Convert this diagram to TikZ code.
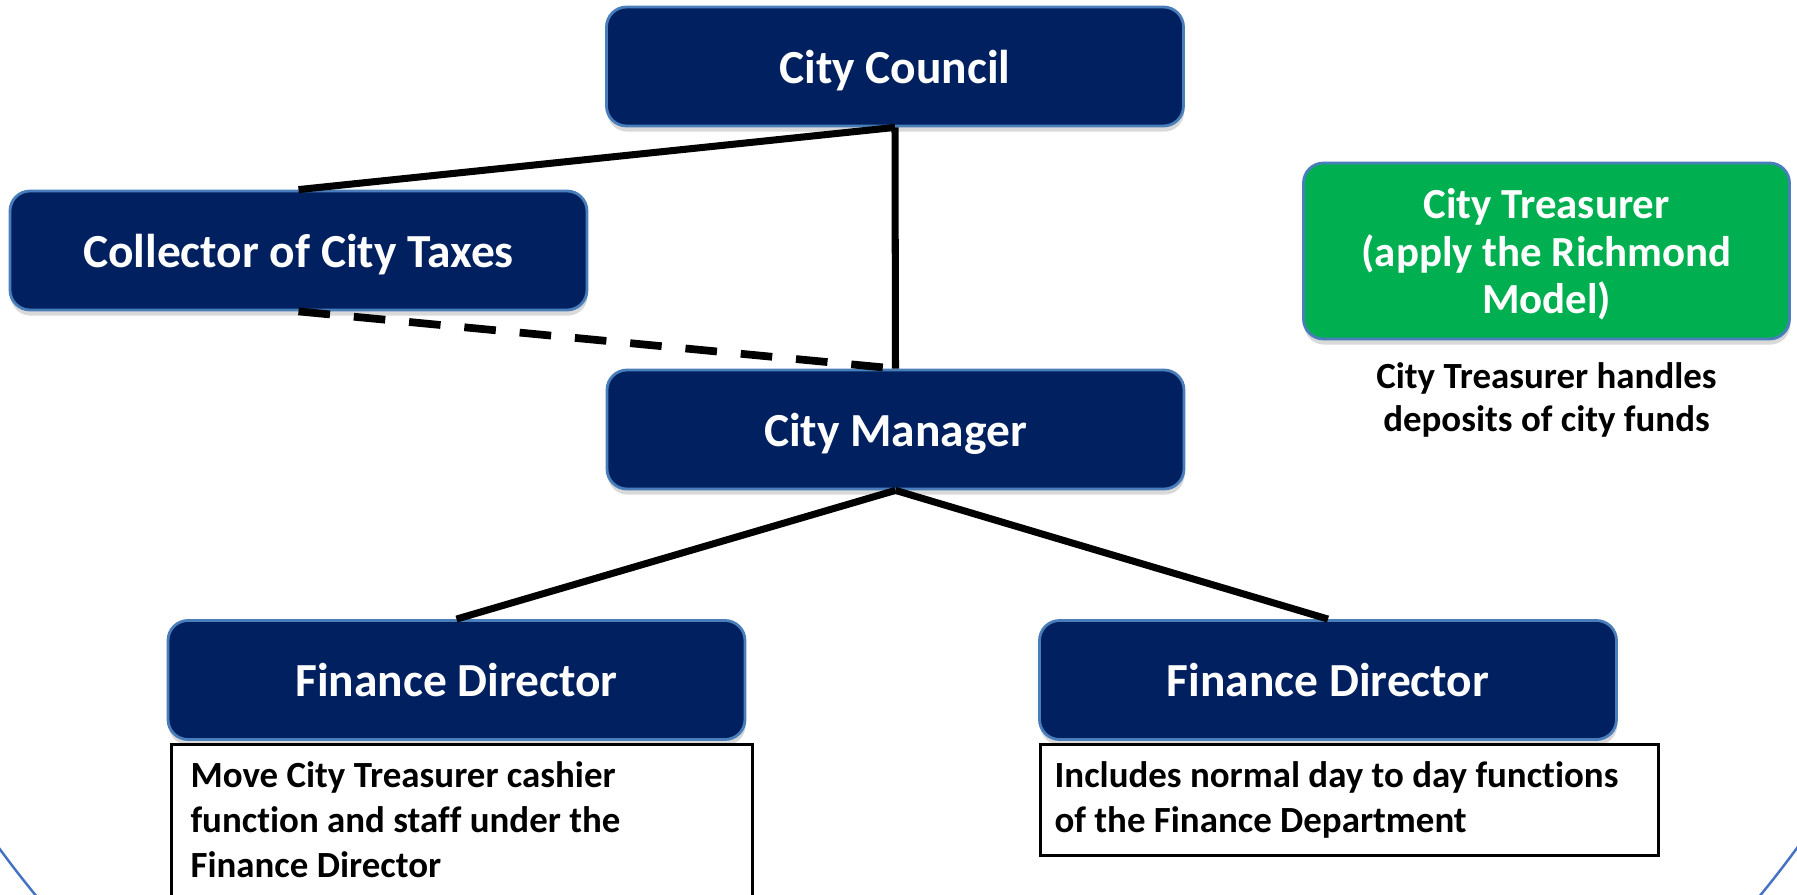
\documentclass[tikz,border=0pt]{standalone}
\usepackage{fontspec}
\setmainfont{Carlito}[Ligatures=NoCommon]
\usepackage{xcolor}
\usetikzlibrary{shapes,shadows}

\begin{document}
\begin{tikzpicture}[auto, thick]

  % Define Colors
  \definecolor{darknavy}{HTML}{002060}
  \definecolor{rimblue}{HTML}{4A7EBB}
  \definecolor{treasgreen}{HTML}{00B050}
  \definecolor{arcblue}{HTML}{4472C4}

  % Node styles
  \tikzstyle{cnavy}=[rectangle, rounded corners=0.2cm, draw=rimblue, line width=0.8pt, fill=darknavy, text=white, minimum width=5.77cm, minimum height=1.19cm, text depth=0pt, font=\bfseries\fontsize{13.5}{16}\selectfont, drop shadow={shadow xshift=0.2pt, shadow yshift=-1.6pt, opacity=0.3}]
  \tikzstyle{cgreen}=[cnavy, fill=treasgreen, minimum width=4.86cm, minimum height=1.76cm, align=center, font=\bfseries\fontsize{12.2}{13.5}\selectfont]
  \tikzstyle{nbox}=[rectangle, draw=black, line width=0.9pt, anchor=north west, align=flush left, inner ysep=0.17cm, font=\bfseries\fontsize{10.5}{12.8}\selectfont]

  \tikzstyle{S_link}=[line width=2pt, black]
  \tikzstyle{D_link}=[line width=2.2pt, black, dash pattern=on 9pt off 6.8pt]

  \useasboundingbox (0,0) rectangle (17.97,-8.95);

  % Background arc
  \draw[arcblue, line width=0.7pt] (8.98,-1.90) circle (11.14cm);

  % Nodes
  \node[cnavy] (council) at (8.95,-0.665) {City Council};
  \node[cnavy] (collector) at (2.985,-2.505) {Collector of City Taxes};
  \node[cnavy] (manager) at (8.955,-4.295) {City Manager};
  \node[cnavy] (fd_1) at (4.565,-6.80) {Finance Director};
  \node[cnavy] (fd_2) at (13.28,-6.80) {Finance Director};

  \node[cgreen] (treas) at (15.465,-2.51) {City Treasurer\\(apply the Richmond\\Model)};
  \node[align=center, font=\bfseries\fontsize{10.5}{12.2}\selectfont] (treas_note) at (15.465,-4.00) {City Treasurer handles\\deposits of city funds};

  \node[nbox, inner xsep=0.19cm, text width=5.43cm, text depth=1.3cm] (note_1) at (1.70,-7.43) {Move City Treasurer cashier\\function and staff under the\\Finance Director};
  \node[nbox, inner xsep=0.14cm, text width=5.90cm, minimum height=1.10cm] (note_2) at (10.39,-7.43) {Includes normal day to day functions\\of the Finance Department};

  % links
  \draw[S_link] (collector.north) -- (council.south);
  \draw[S_link] (council.south) -- (manager.north);
  \draw[D_link] (collector.south) -- (manager.north);
  \draw[S_link] (manager.south) -- (fd_1.north);
  \draw[S_link] (manager.south) -- (fd_2.north);

\end{tikzpicture}
\end{document}
